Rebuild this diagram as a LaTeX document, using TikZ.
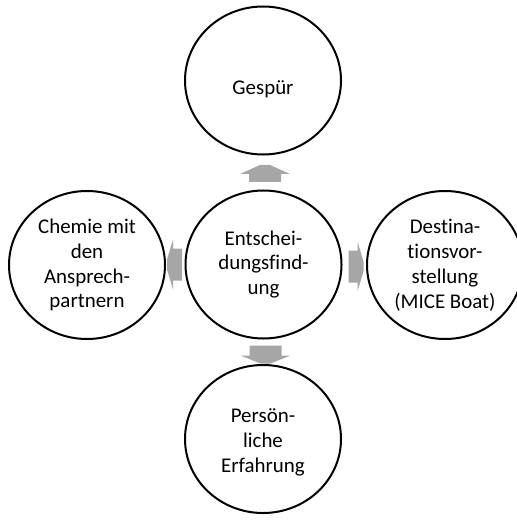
\documentclass[tikz,border=0pt]{standalone}
\usepackage{fontspec}
\setmainfont[Ligatures={NoCommon}]{Carlito}
\usetikzlibrary{shapes.geometric,calc}
\definecolor{arrowgray}{RGB}{166,166,166}
% block arrow pointing up, centred at #1: #3 half length, #4 head length
\newcommand\blockarr[4]{%
  \fill[arrowgray, shift={#1}, rotate=#2]
    (-16,#3) -- (-16,{-#3+#4}) -- (-25,{-#3+#4}) -- (-5,-#3) -- (5,-#3)
    -- (25,{-#3+#4}) -- (16,{-#3+#4}) -- (16,#3) -- cycle;}
\begin{document}
\begin{tikzpicture}[x=1bp,y=-1bp,
  txt/.style={align=center, inner sep=0pt, font=\fontsize{21}{25}\selectfont},
  bubble/.style={ellipse, draw=black, line width=2bp, fill=white,
    minimum width=156bp, minimum height=148bp, inner sep=0pt, txt}]
\useasboundingbox (0,0) rectangle (517,520);
\node[bubble] (c) at (263.5,264.5) {Entschei-\\dungsfind-\\ung};
\node[bubble, label={[txt, yshift=-9bp]center:Gespür}] (t) at (263,80.5) {};
\node[bubble, label={[txt, yshift=-3bp]center:{Persön-\\liche\\Erfahrung}}] (b) at (263,439) {};
\node[bubble] (l) at (87,265) {Chemie mit\\den\\Ansprech-\\partnern};
\node[bubble] (r) at (445,265) {Destina-\\tionsvor-\\stellung\\(MICE Boat)};
% arrows
\blockarr{($(c.north)+(1.5,-16)$)}{0}{8.5}{9}
\blockarr{($(c.south)+(2,15)$)}{180}{9}{8}
\blockarr{($(c.west)+(-10,0)$)}{90}{7.5}{6}
\blockarr{($(c.east)+(13.5,2)$)}{-90}{7.5}{6}
\end{tikzpicture}
\end{document}
